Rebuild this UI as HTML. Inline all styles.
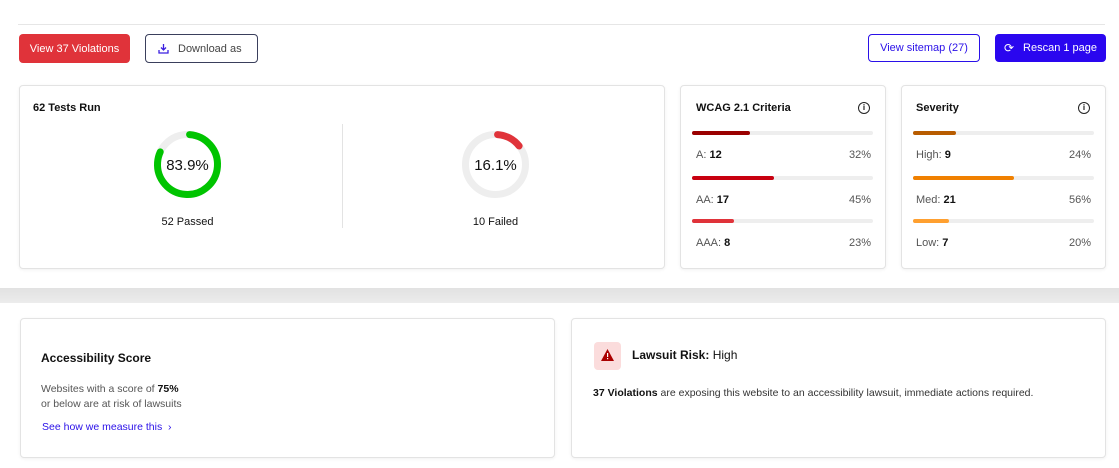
<!DOCTYPE html>
<html><head><meta charset="utf-8"><style>
*{box-sizing:border-box;margin:0;padding:0}
body{width:1119px;height:468px;background:#fff;font-family:"Liberation Sans",sans-serif;color:#111;position:relative;overflow:hidden}
.a{position:absolute}
.card{position:absolute;background:#fff;border:1px solid #e3e3e3;border-radius:4px;box-shadow:0 1px 3px rgba(0,0,0,.06)}
.btn{position:absolute;border-radius:4px;font-size:11px;display:flex;align-items:center;justify-content:center}
.t{position:absolute;font-size:11px;white-space:nowrap}
.bar{position:absolute;height:4px;border-radius:2px;background:#eee}
.bar i{position:absolute;left:0;top:0;height:4px;border-radius:2px}
.g{color:#555}
</style></head><body>
<div class="a" style="left:18px;top:24px;width:1087px;height:1px;background:#e6e6e6"></div>
<div class="btn" style="left:19px;top:34px;width:111px;height:29px;background:#e0333a;color:#fff">View 37 Violations</div>
<div class="btn" style="left:145px;top:34px;width:113px;height:29px;border:1px solid #3a3f5c;color:#444;justify-content:flex-start;padding-left:12px">
<svg width="11" height="11" viewBox="0 0 11 11" style="margin-right:9px"><path d="M5.5 1v6M3 4.5l2.5 2.5 2.5-2.5M1 7v3h9V7" stroke="#3b1fe0" stroke-width="1.3" fill="none"/></svg>Download as</div>
<div class="btn" style="left:868px;top:34px;width:112px;height:28px;border:1px solid #2a10e8;color:#2a10e8">View sitemap (27)</div>
<div class="btn" style="left:995px;top:34px;width:111px;height:28px;background:#2a06ef;color:#fff"><span style="margin-right:9px;font-size:12px">⟳</span>Rescan 1 page</div>

<div class="card" style="left:19px;top:85px;width:646px;height:184px"></div>
<div class="t" style="left:33px;top:102px;font-weight:bold">62 Tests Run</div>
<div class="a" style="left:342px;top:124px;width:1px;height:104px;background:#e3e3e3"></div>
<svg class="a" style="left:0;top:0" width="1119" height="468">
<g fill="none" stroke-width="7" stroke-linecap="round">
<circle cx="187.5" cy="164.5" r="30" stroke="#eee"/>
<circle cx="187.5" cy="164.5" r="30" stroke="#00c400" stroke-dasharray="152 200" transform="rotate(-86 187.5 164.5)"/>
<circle cx="495.5" cy="164.5" r="30" stroke="#eee"/>
<circle cx="495.5" cy="164.5" r="30" stroke="#e0333a" stroke-dasharray="25 200" transform="rotate(-86 495.5 164.5)"/>
<circle cx="413" cy="387" r="30" stroke="#eee"/>
<circle cx="413" cy="387" r="30" stroke="#e0333a" stroke-dasharray="103 200" transform="rotate(-86 413 387)"/>
</g>
<text x="187.5" y="170" font-size="15" text-anchor="middle" font-family="Liberation Sans" fill="#111">83.9%</text>
<text x="495.5" y="170" font-size="15" text-anchor="middle" font-family="Liberation Sans" fill="#111">16.1%</text>
<text x="413" y="392" font-size="15" text-anchor="middle" font-family="Liberation Sans" fill="#111">58%</text>
</svg>
<div class="t" style="left:137px;top:216px;width:101px;text-align:center">52 Passed</div>
<div class="t" style="left:445px;top:216px;width:101px;text-align:center">10 Failed</div>

<div class="card" style="left:680px;top:85px;width:206px;height:184px"></div>
<div class="t" style="left:696px;top:102px;font-weight:bold">WCAG 2.1 Criteria</div>
<div class="a" style="left:858px;top:102px;width:12px;height:12px;border:1.3px solid #222;border-radius:50%;font-size:8px;text-align:center;line-height:10px;font-weight:bold">i</div>
<div class="bar" style="left:692px;top:131px;width:181px"><i style="width:58px;background:#9a0000"></i></div>
<div class="t g" style="left:696px;top:149px">A: <b style="color:#111">12</b></div><div class="t g" style="left:849px;top:149px">32%</div>
<div class="bar" style="left:692px;top:176px;width:181px"><i style="width:82px;background:#c80010"></i></div>
<div class="t g" style="left:696px;top:194px">AA: <b style="color:#111">17</b></div><div class="t g" style="left:849px;top:194px">45%</div>
<div class="bar" style="left:692px;top:219px;width:181px"><i style="width:42px;background:#e0333a"></i></div>
<div class="t g" style="left:696px;top:237px">AAA: <b style="color:#111">8</b></div><div class="t g" style="left:849px;top:237px">23%</div>

<div class="card" style="left:901px;top:85px;width:205px;height:184px"></div>
<div class="t" style="left:916px;top:102px;font-weight:bold">Severity</div>
<div class="a" style="left:1078px;top:102px;width:12px;height:12px;border:1.3px solid #222;border-radius:50%;font-size:8px;text-align:center;line-height:10px;font-weight:bold">i</div>
<div class="bar" style="left:913px;top:131px;width:181px"><i style="width:43px;background:#b85c00"></i></div>
<div class="t g" style="left:916px;top:149px">High: <b style="color:#111">9</b></div><div class="t g" style="left:1069px;top:149px">24%</div>
<div class="bar" style="left:913px;top:176px;width:181px"><i style="width:101px;background:#f08000"></i></div>
<div class="t g" style="left:916px;top:194px">Med: <b style="color:#111">21</b></div><div class="t g" style="left:1069px;top:194px">56%</div>
<div class="bar" style="left:913px;top:219px;width:181px"><i style="width:36px;background:#ffa030"></i></div>
<div class="t g" style="left:916px;top:237px">Low: <b style="color:#111">7</b></div><div class="t g" style="left:1069px;top:237px">20%</div>

<div class="a" style="left:0;top:288px;width:1119px;height:15px;background:linear-gradient(#e2e2e2,#ececec)"></div>

<div class="card" style="left:20px;top:318px;width:535px;height:140px"></div>
<div class="t" style="left:41px;top:351px;font-size:12px;font-weight:bold">Accessibility Score</div>
<div class="t g" style="left:41px;top:383px;font-size:10.5px">Websites with a score of <b style="color:#111">75%</b></div>
<div class="t g" style="left:41px;top:398px;font-size:10.5px">or below are at risk of lawsuits</div>
<div class="t" style="left:42px;top:421px;font-size:10.5px;color:#2a10e8">See how we measure this &nbsp;›</div>

<div class="card" style="left:571px;top:318px;width:535px;height:140px"></div>
<div class="a" style="left:594px;top:342px;width:27px;height:28px;background:#fbdcdc;border-radius:4px"></div>
<svg class="a" style="left:600px;top:348px" width="15" height="14"><path d="M7.5 1L14 13H1z" fill="#a00"/><rect x="7" y="5" width="1.2" height="4" fill="#fff"/><rect x="7" y="10" width="1.2" height="1.2" fill="#fff"/></svg>
<div class="t" style="left:632px;top:348px;font-size:12px"><b>Lawsuit Risk:</b> High</div>
<div class="t" style="left:593px;top:387px;font-size:10.5px;color:#333"><b style="color:#111">37 Violations</b> are exposing this website to an accessibility lawsuit, immediate actions required.</div>
</body></html>
